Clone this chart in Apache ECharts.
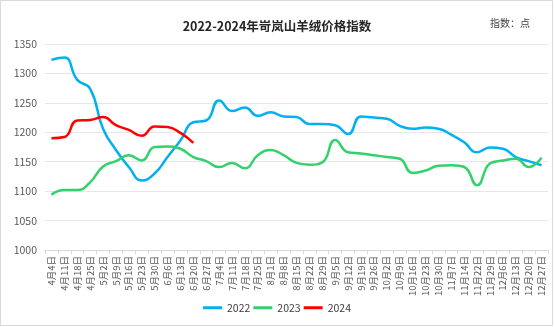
<!DOCTYPE html>
<html><head><meta charset="utf-8">
<script src="https://cdn.jsdelivr.net/npm/echarts@6/dist/echarts.min.js"></script>
<style>html,body{margin:0;padding:0;background:#fff}#c{width:554px;height:327px}</style>
</head><body><div id="c"></div>
<script>
var categories = ['4月4日','4月11日','4月18日','4月25日','5月2日','5月9日','5月16日','5月23日','5月30日','6月6日','6月13日','6月20日','6月27日','7月4日','7月11日','7月18日','7月25日','8月1日','8月8日','8月15日','8月22日','8月29日','9月5日','9月12日','9月19日','9月26日','10月2日','10月9日','10月16日','10月23日','10月30日','11月7日','11月14日','11月22日','11月29日','12月6日','12月13日','12月20日','12月27日'];
var s2022 = [1323,1327,1289,1274,1206,1170,1141,1118,1130,1158,1186,1217,1220,1254,1236,1242,1228,1234,1227,1226,1214,1214,1212,1197,1227,1225,1223,1211,1206,1208,1206,1196,1183,1166,1174,1172,1158,1151,1144];
var s2023 = [1094,1102,1102,1115,1142,1151,1161,1152,1175,1176,1172,1158,1151,1141,1148,1139,1161,1170,1161,1148,1145,1149,1187,1166,1164,1161,1158,1155,1131,1135,1143,1144,1141,1110,1147,1152,1155,1141,1157];
var s2024 = [1190,1192,1220,1221,1226,1212,1204,1194,1210,1209,1199,1182];
var seriesNames = ['2022','2023','2024'];
var colors = ['#00B0F0','#33D16B','#FF0000'];
var yTicks = {min:1000, max:1350, interval:50};

var chart = echarts.init(document.getElementById('c'));
var font = '"Noto Sans CJK SC", "Noto Sans", sans-serif';
function mk(name, data, color){
  return {name:name, type:'line', data:data, smooth:0.5, symbol:'none',
    lineStyle:{color:color, width:2.5}, itemStyle:{color:color}};
}
chart.setOption({
  animation:false,
  textStyle:{fontFamily:font},
  graphic:[{type:'rect', shape:{x:0.5,y:0.5,width:552,height:325}, style:{fill:'none', stroke:'#d9d9d9', lineWidth:1}},
    {type:'text', left:490, top:18, style:{text:'指数：点', font:'10px '+font, fill:'#404040'}}],
  title:{text:'2022-2024年岢岚山羊绒价格指数', left:'center', top:15,
    textStyle:{fontSize:12.5, fontWeight:'bold', color:'#262626', fontFamily:font}},
  legend:{bottom:9, left:'center', icon:'rect', itemWidth:19, itemHeight:3, itemGap:3,
    textStyle:{fontSize:10.5, color:'#404040'}, data:seriesNames},
  grid:{left:45, right:6, top:44, bottom:77},
  xAxis:{type:'category', data:categories, boundaryGap:true,
    axisLine:{lineStyle:{color:'#d9d9d9'}},
    axisTick:{show:true, lineStyle:{color:'#d9d9d9'}, length:4},
    axisLabel:{rotate:90, fontSize:9.5, color:'#595959', interval:0, margin:6}},
  yAxis:{type:'value', min:yTicks.min, max:yTicks.max, interval:yTicks.interval,
    axisLine:{show:false}, axisTick:{show:false},
    splitLine:{lineStyle:{color:'#e6e6e6', width:1}},
    axisLabel:{fontSize:10.5, color:'#595959', margin:8, formatter:function(v){return String(v);}}},
  series:[mk('2022', s2022, colors[0]), mk('2023', s2023, colors[1]), mk('2024', s2024, colors[2])]
});
</script></body></html>
